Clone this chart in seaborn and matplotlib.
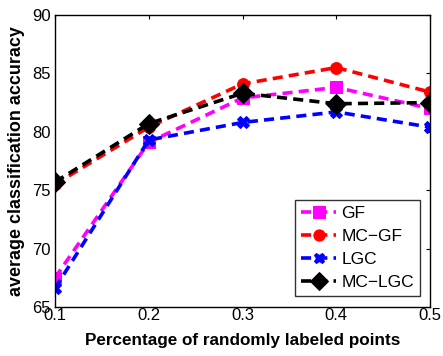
import matplotlib
matplotlib.use("Agg")
import matplotlib.pyplot as plt
import seaborn as sns
import pandas as pd

x_vals = [0.1, 0.2, 0.3, 0.4, 0.5]
gf = [67.5, 79.1, 82.9, 83.8, 82.0]
mc_gf = [75.5, 80.4, 84.1, 85.5, 83.4]
lgc = [66.6, 79.3, 80.8, 81.7, 80.4]
mc_lgc = [75.7, 80.7, 83.3, 82.4, 82.5]
series_names = ["GF", "MC\u2212GF", "LGC", "MC\u2212LGC"]
xticks = [0.1, 0.2, 0.3, 0.4, 0.5]
yticks = [65, 70, 75, 80, 85, 90]

sns.set_style("white")
plt.rcParams['font.family'] = ['Liberation Sans', 'DejaVu Sans']
plt.rcParams['text.color'] = 'black'
plt.rcParams['axes.labelcolor'] = 'black'
plt.rcParams['xtick.color'] = 'black'
plt.rcParams['ytick.color'] = 'black'

rows = []
for name, vals in zip(series_names, [gf, mc_gf, lgc, mc_lgc]):
    for xv, yv in zip(x_vals, vals):
        rows.append({"x": xv, "y": yv, "series": name})
df = pd.DataFrame(rows)

fig = plt.figure(figsize=(4.43, 3.56), dpi=100)
ax = fig.add_subplot(111)
fig.subplots_adjust(left=55/443, right=430/443, top=1-15/356, bottom=1-307/356)

palette = {"GF": "#ff00ff", "MC\u2212GF": "#ff0000", "LGC": "#0000ff", "MC\u2212LGC": "#000000"}
markers = {"GF": "s", "MC\u2212GF": "o", "LGC": "X", "MC\u2212LGC": "D"}
sizes = {"GF": 9, "MC\u2212GF": 8.5, "LGC": 8, "MC\u2212LGC": 10}

for name in series_names:
    sub = df[df.series == name]
    sns.lineplot(data=sub, x="x", y="y", ax=ax, color=palette[name],
                 marker=markers[name], markersize=sizes[name],
                 markeredgecolor=palette[name], linewidth=2.6,
                 linestyle=(0, (2.8, 1.7)), label=name)

ax.set_xlim(0.1, 0.5)
ax.set_ylim(65, 90)
ax.set_xticks(xticks)
ax.set_xticklabels([str(t) for t in xticks])
ax.set_yticks(yticks)
ax.tick_params(direction="in", length=3, labelsize=12, top=True, right=True, width=0.8,
               colors="black", labelcolor="black")
ax.tick_params(axis="x", pad=1)
ax.tick_params(axis="y", pad=3)
for s in ax.spines.values():
    s.set_visible(True)
    s.set_color("black")
    s.set_linewidth(1.0)
ax.set_xlabel("Percentage of randomly labeled points", fontsize=12.3, fontweight="bold",
              labelpad=7, color="black")
ax.set_ylabel("average classification accuracy", fontsize=12.9, fontweight="bold",
              labelpad=5, color="black")

leg = ax.legend(loc="lower right", fontsize=12.5, frameon=True, fancybox=False,
                edgecolor="black", handlelength=2.0, borderpad=0.35, labelspacing=0.45,
                handletextpad=0.3, borderaxespad=0.0, bbox_to_anchor=(0.973, 0.038), markerscale=0.95)
leg.get_frame().set_linewidth(1.0)
for t in leg.get_texts():
    t.set_color("black")

fig.savefig("out.png", dpi=100)
